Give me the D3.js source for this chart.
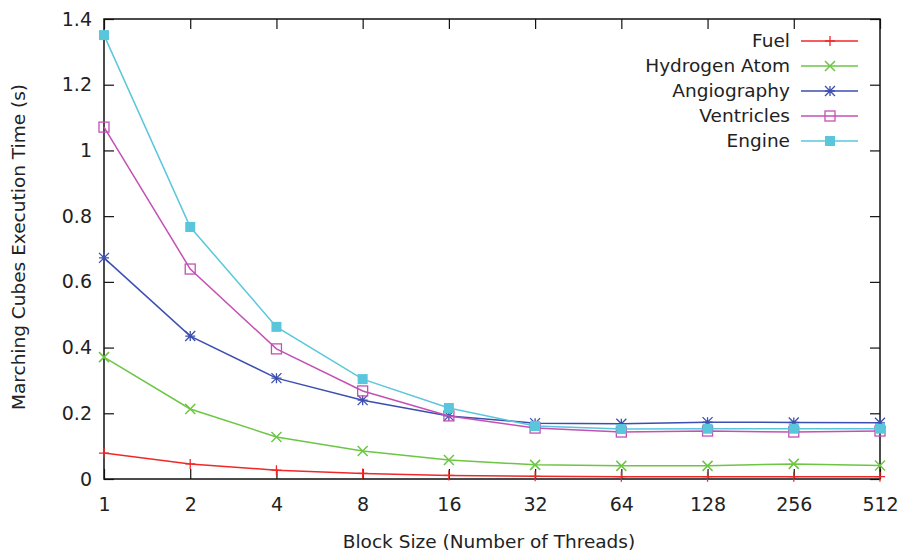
<!DOCTYPE html>
<html>
<head>
<meta charset="utf-8">
<script src="https://cdn.jsdelivr.net/npm/d3@7"></script>
<style>
  body { margin: 0; background: #fff; }
  text { font-family: "DejaVu Sans", sans-serif; fill: #222; }
</style>
</head>
<body>
<div id="chart"></div>
<script>
// block sizes (log2 x axis)
const blockSizes = [1, 2, 4, 8, 16, 32, 64, 128, 256, 512];
const yTicks = [0, 0.2, 0.4, 0.6, 0.8, 1, 1.2, 1.4];

// execution times
const fuel = [0.079, 0.046, 0.027, 0.017, 0.011, 0.008, 0.007, 0.007, 0.007, 0.007];
const hydrogenAtom = [0.371, 0.213, 0.128, 0.085, 0.058, 0.043, 0.040, 0.040, 0.046, 0.041];
const angiography = [0.673, 0.435, 0.307, 0.240, 0.192, 0.170, 0.168, 0.173, 0.172, 0.171];
const ventricles = [1.071, 0.639, 0.396, 0.268, 0.192, 0.155, 0.143, 0.146, 0.143, 0.146];
const engine = [1.351, 0.767, 0.463, 0.304, 0.216, 0.161, 0.152, 0.153, 0.153, 0.153];

const seriesNames = ["Fuel", "Hydrogen Atom", "Angiography", "Ventricles", "Engine"];
const seriesValues = [fuel, hydrogenAtom, angiography, ventricles, engine];
const seriesColors = ["#f02828", "#6cc644", "#3c4eb0", "#c450b4", "#5ac6dc"];
const seriesMarkers = ["plus", "cross", "star", "openSquare", "filledSquare"];

let width = 900, height = 553;
let margin = { left: 104, right: 20, top: 19, bottom: 74 };
let innerW = width - margin.left - margin.right,
    innerH = height - margin.top - margin.bottom;

let svg = d3.select("#chart")
    .append("svg")
    .attr("width", width)
    .attr("height", height)
    .append("g")
    .attr("transform", `translate(${margin.left}, ${margin.top})`);

// scales
let x = d3.scaleLog().base(2)
    .domain([1, 512])
    .range([0, innerW]);

let y = d3.scaleLinear()
    .domain([0, 1.4])
    .range([innerH, 0]);

const tickLen = 10;

// ticks, gnuplot style: inward and mirrored
svg.append("g")
    .attr("transform", `translate(0, ${innerH})`)
    .call(d3.axisBottom(x).tickValues(blockSizes).tickFormat(d3.format("d"))
        .tickSizeInner(-tickLen).tickSizeOuter(0).tickPadding(19))
    .call(g => g.select(".domain").remove());

svg.append("g")
    .call(d3.axisTop(x).tickValues(blockSizes).tickFormat("")
        .tickSizeInner(-tickLen).tickSizeOuter(0))
    .call(g => g.select(".domain").remove());

svg.append("g")
    .call(d3.axisLeft(y).tickValues(yTicks).tickFormat(d3.format("~g"))
        .tickSizeInner(-tickLen).tickSizeOuter(0).tickPadding(12))
    .call(g => g.select(".domain").remove());

svg.append("g")
    .attr("transform", `translate(${innerW}, 0)`)
    .call(d3.axisRight(y).tickValues(yTicks).tickFormat("")
        .tickSizeInner(-tickLen).tickSizeOuter(0))
    .call(g => g.select(".domain").remove());

svg.selectAll(".tick line").attr("stroke", "#111").attr("stroke-width", 1.2);
svg.selectAll(".tick text").style("font-size", "19px").attr("fill", "#222");

// frame
svg.append("rect")
    .attr("width", innerW)
    .attr("height", innerH)
    .attr("fill", "none")
    .attr("stroke", "#111")
    .attr("stroke-width", 1.5);

// axis titles
svg.append("text")
    .attr("transform", `translate(${innerW / 2 - 3}, ${innerH + 69})`)
    .style("text-anchor", "middle")
    .style("font-size", "18.5px")
    .text("Block Size (Number of Threads)");

svg.append("text")
    .attr("transform", `translate(${-79}, ${innerH / 2 - 2}) rotate(-90)`)
    .style("text-anchor", "middle")
    .style("font-size", "18.5px")
    .text("Marching Cubes Execution Time (s)");

// marker drawing
function drawMarker(g, type, color) {
    let s = 5;
    if (type === "plus") {
        g.append("path").attr("d", `M${-s},0H${s}M0,${-s}V${s}`)
            .attr("stroke", color).attr("stroke-width", 1.3);
    } else if (type === "cross") {
        g.append("path").attr("d", `M${-s},${-s}L${s},${s}M${-s},${s}L${s},${-s}`)
            .attr("stroke", color).attr("stroke-width", 1.5);
    } else if (type === "star") {
        g.append("path").attr("d", `M${-s},0H${s}M0,${-s}V${s}M${-s},${-s}L${s},${s}M${-s},${s}L${s},${-s}`)
            .attr("stroke", color).attr("stroke-width", 1.3);
    } else if (type === "openSquare") {
        g.append("rect").attr("x", -s).attr("y", -s).attr("width", 2 * s).attr("height", 2 * s)
            .attr("fill", "none").attr("stroke", color).attr("stroke-width", 1.3);
    } else {
        g.append("rect").attr("x", -s).attr("y", -s).attr("width", 2 * s).attr("height", 2 * s)
            .attr("fill", color);
    }
}

let line = d3.line()
    .x((d, i) => x(blockSizes[i]))
    .y(d => y(d));

seriesValues.forEach(function (vals, k) {
    svg.append("path")
        .datum(vals)
        .attr("fill", "none")
        .attr("stroke", seriesColors[k])
        .attr("stroke-width", 1.5)
        .attr("d", line);

    vals.forEach(function (v, i) {
        let g = svg.append("g")
            .attr("transform", `translate(${x(blockSizes[i])}, ${y(v)})`);
        drawMarker(g, seriesMarkers[k], seriesColors[k]);
    });
});

// legend
let legend = svg.append("g")
    .attr("transform", `translate(${686}, ${22})`);

seriesNames.forEach(function (name, k) {
    let row = legend.append("g").attr("transform", `translate(0, ${k * 25})`);
    row.append("text")
        .attr("x", 0)
        .attr("dy", "0.35em")
        .style("text-anchor", "end")
        .style("font-size", "18.5px")
        .text(name);
    row.append("line")
        .attr("x1", 11).attr("x2", 68)
        .attr("stroke", seriesColors[k])
        .attr("stroke-width", 1.5);
    let m = row.append("g").attr("transform", "translate(40, 0)");
    drawMarker(m, seriesMarkers[k], seriesColors[k]);
});
</script>
</body>
</html>
